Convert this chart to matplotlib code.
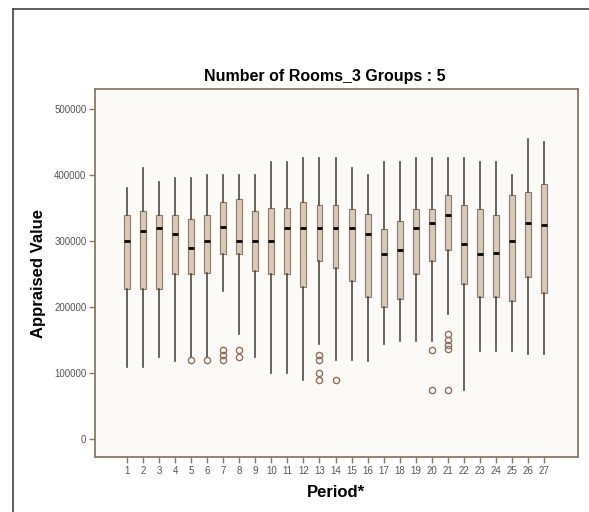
import matplotlib
matplotlib.use("Agg")
import matplotlib.pyplot as plt
from matplotlib.lines import Line2D

plt.rcParams['font.family'] = ['Liberation Sans', 'DejaVu Sans']

# boxplot summary per period
periods = list(range(1, 28))
whis_lo = [109000, 109000, 124000, 119000, 125000, 125000, 225000, 160000, 124000, 100000,
           100000, 90000, 145000, 120000, 120000, 119000, 145000, 149000, 149000, 149000,
           189000, 75000, 134000, 134000, 134000, 129000, 129000]
q1 = [227000, 227000, 227000, 250000, 250000, 252000, 280000, 280000, 255000, 250000,
      250000, 230000, 270000, 260000, 240000, 215000, 200000, 212000, 250000, 270000,
      287000, 235000, 215000, 215000, 210000, 245000, 222000]
medians = [300000, 315000, 320000, 310000, 290000, 300000, 322000, 300000, 300000, 300000,
           320000, 320000, 320000, 320000, 320000, 310000, 280000, 287000, 320000, 327000,
           340000, 295000, 280000, 282000, 300000, 327000, 325000]
q3 = [340000, 345000, 340000, 340000, 334000, 340000, 359000, 364000, 345000, 350000,
      350000, 359000, 354000, 354000, 349000, 341000, 319000, 330000, 349000, 349000,
      369000, 354000, 349000, 339000, 369000, 374000, 386000]
whis_hi = [380000, 410000, 390000, 395000, 395000, 400000, 400000, 400000, 400000, 420000,
           420000, 425000, 425000, 425000, 410000, 400000, 420000, 420000, 425000, 425000,
           425000, 425000, 420000, 420000, 400000, 454000, 450000]
outliers = [[], [], [], [], [120000], [120000], [135000, 127000, 120000], [135000, 125000], [], [],
            [], [], [127000, 120000, 100000, 90000], [90000], [], [], [], [], [], [135000, 75000],
            [160000, 150000, 143000, 136000, 75000], [], [], [], [], [], []]

y_ticks = [0, 100000, 200000, 300000, 400000, 500000]

stats = []
for i in range(len(periods)):
    stats.append(dict(whislo=whis_lo[i], q1=q1[i], med=medians[i], q3=q3[i],
                      whishi=whis_hi[i], fliers=outliers[i]))

fig = plt.figure(figsize=(5.89, 5.12), dpi=100)
fig.patch.set_facecolor('white')
ax = fig.add_axes([0.161, 0.107, 0.820, 0.719])
ax.set_facecolor('#FBFAF6')

edge = '#8C7A68'
ax.bxp(stats, positions=periods, widths=0.37, patch_artist=True, showcaps=False,
       boxprops=dict(facecolor='#D8CABB', edgecolor=edge, linewidth=0.8),
       whiskerprops=dict(color='#4A4A4A', linewidth=1.2),
       medianprops=dict(color='black', linewidth=2.0),
       flierprops=dict(marker='o', markerfacecolor='none', markeredgecolor='#8C7060',
                       markersize=4.5, markeredgewidth=1.0))

ax.set_xlim(-1.0, 29.1)
ax.set_ylim(-27000, 530000)
ax.set_xticks(periods)
ax.set_xticklabels([str(p) for p in periods])
ax.set_yticks(y_ticks)
ax.set_yticklabels([str(v) for v in y_ticks])
ax.tick_params(axis='both', direction='out', length=4, width=1, color=edge,
               labelsize=7, labelcolor='#555555', pad=2)
for s in ax.spines.values():
    s.set_color(edge)
    s.set_linewidth(1.3)

ax.set_title('Number of Rooms_3 Groups : 5', fontsize=11.5, fontweight='bold', pad=6, x=0.476)
ax.set_ylabel('Appraised Value', fontsize=12, fontweight='bold', labelpad=6)
ax.set_xlabel('Period*', fontsize=12, fontweight='bold', labelpad=7)

# outer frame of the SPSS output window
fig.add_artist(Line2D([13 / 589, 1.0], [1 - 9 / 512, 1 - 9 / 512], color='#444444', linewidth=1.2))
fig.add_artist(Line2D([13 / 589, 13 / 589], [0.0, 1 - 9 / 512], color='#444444', linewidth=1.2))

fig.savefig('out.png', dpi=100)
